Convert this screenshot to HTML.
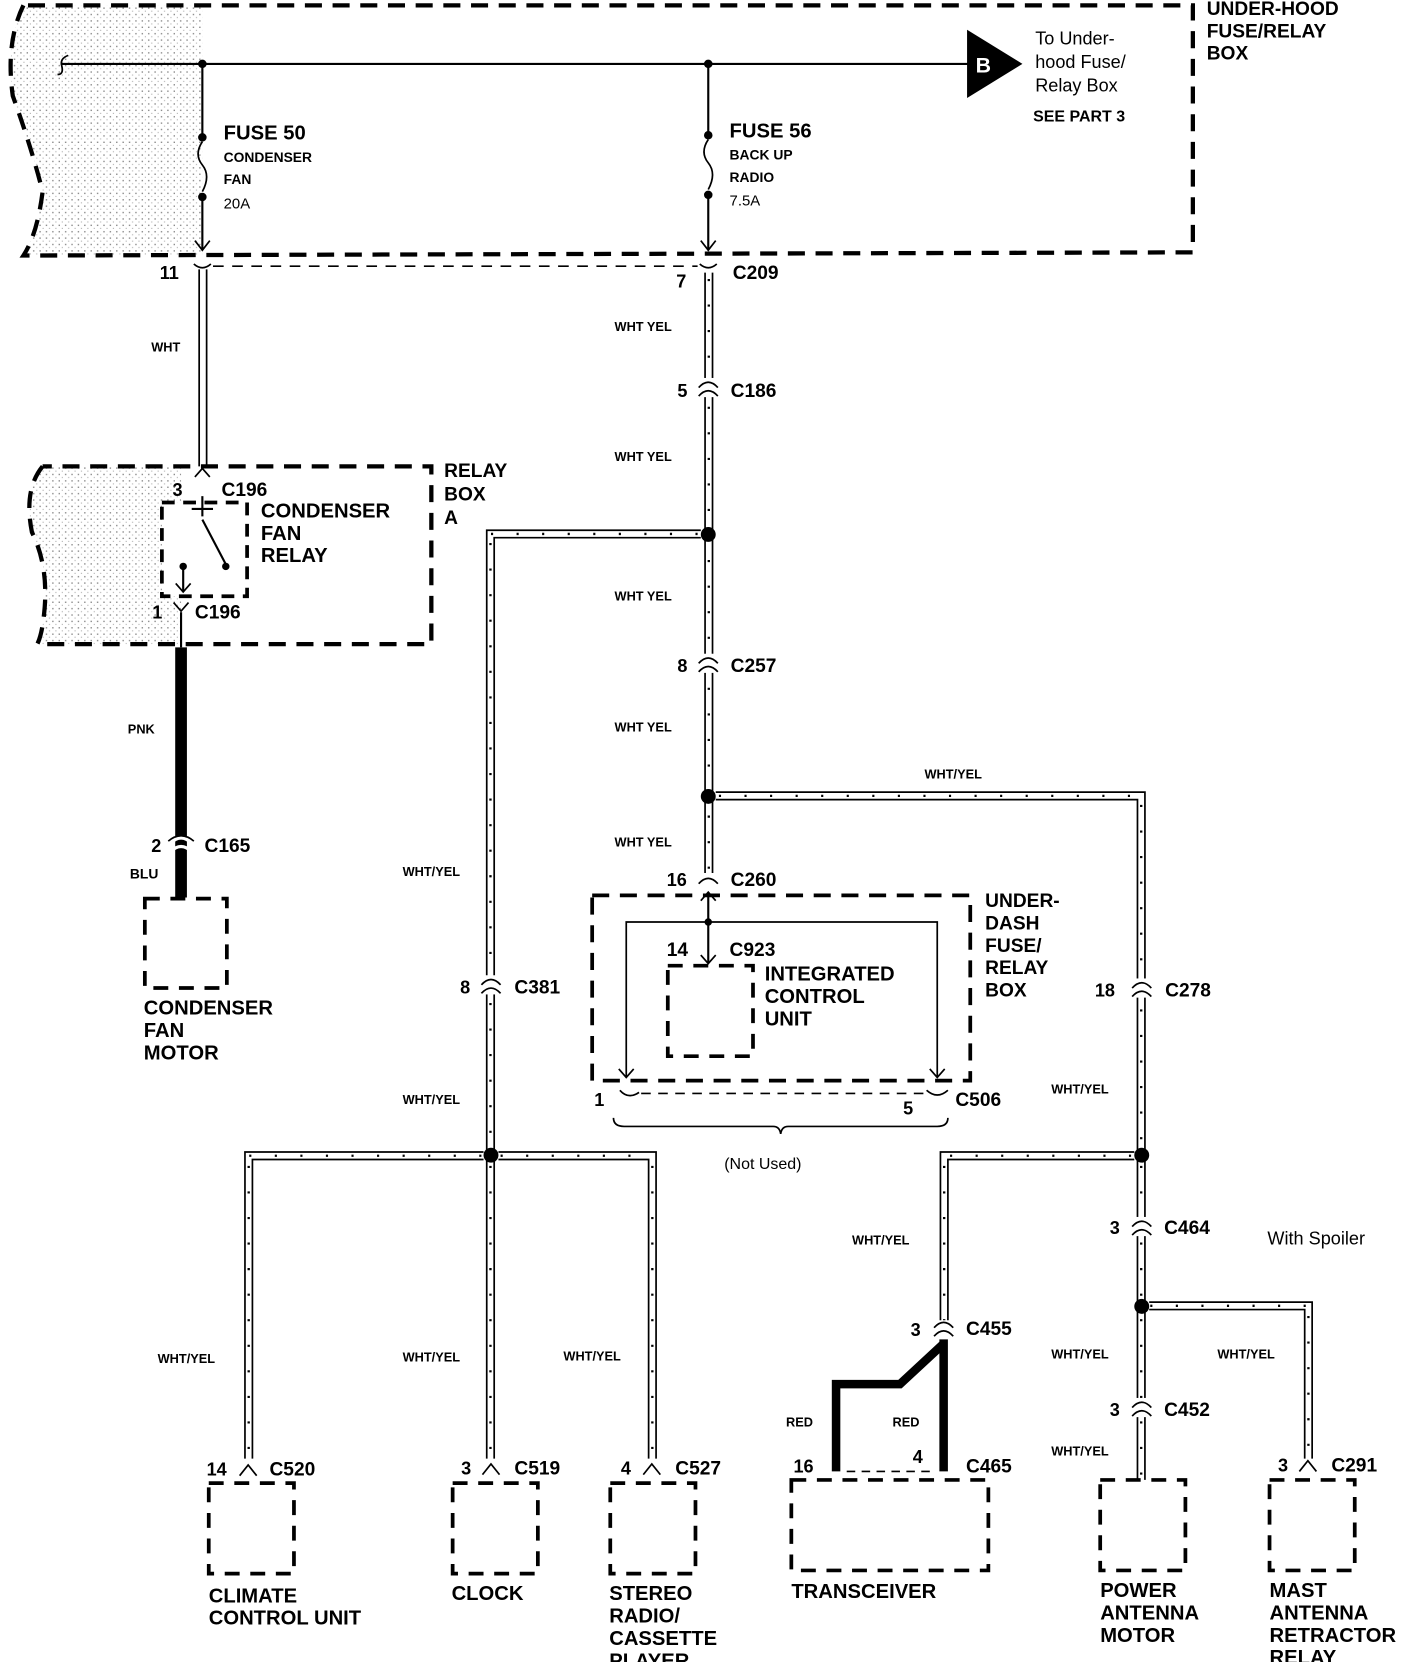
<!DOCTYPE html>
<html><head><meta charset="utf-8"><style>
html,body{margin:0;padding:0;background:#fff;}
svg{display:block;}
text{font-family:"Liberation Sans",Arial,sans-serif;font-weight:bold;fill:#000;}
.d{fill:none;stroke:#000;stroke-width:4;stroke-dasharray:16 10;}
.w{fill:none;stroke:#000;stroke-width:1.6;}
.h{fill:none;stroke:#000;stroke-width:2.2;stroke-dasharray:2 22;}
</style></head><body>
<svg width="1408" height="1662" viewBox="0 0 1322 1561" preserveAspectRatio="none" xmlns="http://www.w3.org/2000/svg">
<defs>
<pattern id="dots" width="6" height="6" patternUnits="userSpaceOnUse"><rect width="6" height="6" fill="#fff"/><rect x="1" y="1" width="1.3" height="1.3" fill="#888"/><rect x="4" y="4" width="1" height="1" fill="#aaa"/></pattern>
</defs>
<!-- top box shading -->
<path d="M22,5 Q5,40 12,90 Q30,140 40,180 Q35,220 22,240 L190,240 L190,5 Z" fill="url(#dots)"/>
<path class="d" d="M22,5 Q5,40 12,90 Q30,140 40,180 Q35,220 22,240 L1120,237 L1120,5 L22,5"/>
<text x="1133" y="14" font-size="18">UNDER-HOOD</text>
<text x="1133" y="35" font-size="18">FUSE/RELAY</text>
<text x="1133" y="56" font-size="18">BOX</text>
<!-- bus -->
<path d="M64,52 Q56,55 58,62 Q60,70 54,70" class="w" stroke-width="2"/>
<line x1="58" y1="60" x2="910" y2="60" stroke="#000" stroke-width="2"/>
<polygon points="908,28 908,92 960,60" fill="#000"/>
<text x="916" y="68" font-size="20" fill="#fff" style="fill:#fff">B</text>
<text x="972" y="42" font-size="17" font-weight="normal" style="font-weight:normal">To Under-</text>
<text x="972" y="64" font-size="17" style="font-weight:normal">hood Fuse/</text>
<text x="972" y="86" font-size="17" style="font-weight:normal">Relay Box</text>
<text x="970" y="114" font-size="15">SEE PART 3</text>
<!-- fuse 50 -->
<circle cx="190" cy="60" r="4"/>
<line x1="190" y1="60" x2="190" y2="128" stroke="#000" stroke-width="2"/>
<circle cx="190" cy="129" r="4"/><circle cx="190" cy="185" r="4"/>
<path d="M190,133 Q182,145 190,155 Q198,165 190,180" class="w" stroke-width="2"/>
<line x1="190" y1="185" x2="190" y2="235" stroke="#000" stroke-width="2"/>
<path d="M183,226 L190,235 L197,226" class="w" stroke-width="2"/>
<text x="210" y="131" font-size="19">FUSE 50</text>
<text x="210" y="152" font-size="13">CONDENSER</text>
<text x="210" y="173" font-size="13">FAN</text>
<text x="210" y="196" font-size="14" style="font-weight:normal">20A</text>
<!-- fuse 56 -->
<circle cx="665" cy="60" r="4"/>
<line x1="665" y1="60" x2="665" y2="126" stroke="#000" stroke-width="2"/>
<circle cx="665" cy="127" r="4"/><circle cx="665" cy="183" r="4"/>
<path d="M665,131 Q657,143 665,153 Q673,163 665,178" class="w" stroke-width="2"/>
<line x1="665" y1="183" x2="665" y2="235" stroke="#000" stroke-width="2"/>
<path d="M658,226 L665,235 L672,226" class="w" stroke-width="2"/>
<text x="685" y="129" font-size="19">FUSE 56</text>
<text x="685" y="150" font-size="13">BACK UP</text>
<text x="685" y="171" font-size="13">RADIO</text>
<text x="685" y="193" font-size="14" style="font-weight:normal">7.5A</text>
<!-- connector dashed line -->
<line x1="200" y1="250" x2="655" y2="250" stroke="#000" stroke-width="1.5" stroke-dasharray="10 8"/>
<path d="M182,248 Q190,255 198,248" class="w" stroke-width="3"/>
<path d="M657,248 Q665,255 673,248" class="w" stroke-width="3"/>
<text x="150" y="262" font-size="17">11</text>
<text x="635" y="270" font-size="17">7</text>
<text x="688" y="262" font-size="18">C209</text>
<!-- left WHT wire -->
<line x1="187" y1="253" x2="187" y2="438" class="w"/><line x1="194" y1="253" x2="194" y2="438" class="w"/>
<text x="142" y="330" font-size="12">WHT</text>
<!-- relay box A -->
<path d="M40,438 Q22,460 30,500 Q45,530 42,570 Q40,595 35,605 L170,605 L170,438 Z" fill="url(#dots)"/>
<path class="d" d="M40,438 Q22,460 30,500 Q45,530 42,570 Q40,595 35,605 L405,605 L405,438 L40,438"/>
<path d="M183,448 L190,440 L197,448" class="w" stroke-width="2.5"/>
<text x="162" y="466" font-size="17">3</text><text x="208" y="466" font-size="18">C196</text>
<text x="417" y="448" font-size="18">RELAY</text><text x="417" y="470" font-size="18">BOX</text><text x="417" y="492" font-size="18">A</text>
<rect x="152" y="472" width="80" height="88" fill="#fff" stroke="#000" stroke-width="3.5" stroke-dasharray="12 8"/>
<line x1="190" y1="466" x2="190" y2="485" stroke="#000" stroke-width="2"/>
<line x1="180" y1="478" x2="200" y2="478" stroke="#000" stroke-width="2"/>
<line x1="190" y1="488" x2="212" y2="530" stroke="#000" stroke-width="2"/>
<circle cx="212" cy="532" r="3.5"/><circle cx="172" cy="532" r="3.5"/>
<line x1="172" y1="532" x2="172" y2="555" stroke="#000" stroke-width="2"/>
<path d="M165,548 L172,556 L179,548" class="w" stroke-width="2"/>
<text x="245" y="486" font-size="19">CONDENSER</text><text x="245" y="507" font-size="19">FAN</text><text x="245" y="528" font-size="19">RELAY</text>
<path d="M163,566 L170,574 L177,566" class="w" stroke-width="2.5"/>
<text x="143" y="581" font-size="17">1</text><text x="183" y="581" font-size="18">C196</text>
<line x1="170" y1="575" x2="170" y2="608" stroke="#000" stroke-width="2"/>
<!-- PNK -->
<line x1="170" y1="608" x2="170" y2="843" stroke="#000" stroke-width="11"/>
<text x="120" y="689" font-size="12">PNK</text>
<path d="M160,792 Q170,782 180,792 M160,800 Q170,790 180,800" fill="none" stroke="#fff" stroke-width="3"/>
<path d="M158,790 Q170,780 182,790" class="w" stroke-width="3"/>
<text x="142" y="800" font-size="17">2</text><text x="192" y="800" font-size="18">C165</text>
<text x="122" y="825" font-size="13">BLU</text>
<rect x="136" y="844" width="77" height="84" fill="none" stroke="#000" stroke-width="3.5" stroke-dasharray="14 10"/>
<text x="135" y="953" font-size="19">CONDENSER</text><text x="135" y="974" font-size="19">FAN</text><text x="135" y="995" font-size="19">MOTOR</text>

<!-- middle trunk x=665 -->
<g>
<line x1="662" y1="256" x2="662" y2="820" class="w"/><line x1="669" y1="256" x2="669" y2="820" class="w"/>
<line x1="665.5" y1="262" x2="665.5" y2="820" class="h"/>
</g>
<g fill="#fff" stroke="none"><rect x="655" y="355" width="20" height="18"/><rect x="655" y="614" width="20" height="18"/></g>
<path d="M656,364 Q665,354 674,364 M656,372 Q665,362 674,372" class="w" stroke-width="3"/>
<path d="M656,623 Q665,613 674,623 M656,631 Q665,621 674,631" class="w" stroke-width="3"/>
<text x="636" y="373" font-size="17">5</text><text x="686" y="373" font-size="18">C186</text>
<text x="636" y="631" font-size="17">8</text><text x="686" y="631" font-size="18">C257</text>
<text x="577" y="311" font-size="12">WHT YEL</text>
<text x="577" y="433" font-size="12">WHT YEL</text>
<text x="577" y="564" font-size="12">WHT YEL</text>
<text x="577" y="687" font-size="12">WHT YEL</text>
<text x="577" y="795" font-size="12">WHT YEL</text>
<circle cx="665" cy="502" r="7"/><circle cx="665" cy="748" r="7"/>
<path d="M656,830 Q665,820 674,830" class="w" stroke-width="3"/>
<text x="626" y="832" font-size="17">16</text><text x="686" y="832" font-size="18">C260</text>

<!-- branch left from 502 to x=461 -->
<path d="M658,498 L457,498 L457,1085 M658,505 L464,505 L464,1085" class="w"/>
<path d="M655,501.5 L461,501.5" class="h"/><line x1="460.5" y1="510" x2="460.5" y2="1085" class="h"/>
<rect x="451" y="916" width="20" height="18" fill="#fff"/>
<path d="M452,925 Q461,915 470,925 M452,933 Q461,923 470,933" class="w" stroke-width="3"/>
<text x="432" y="933" font-size="17">8</text><text x="483" y="933" font-size="18">C381</text>
<text x="378" y="823" font-size="12">WHT/YEL</text>
<text x="378" y="1037" font-size="12">WHT/YEL</text>

<!-- branch right from 748 to x=1072 -->
<path d="M672,744 L1075,744 L1075,1085 M672,751 L1068,751 L1068,1085" class="w"/>
<path d="M675,747.5 L1071,747.5" class="h"/><line x1="1071.5" y1="756" x2="1071.5" y2="1085" class="h"/>
<text x="868" y="731" font-size="12">WHT/YEL</text>
<rect x="1062" y="919" width="20" height="18" fill="#fff"/>
<path d="M1063,928 Q1072,918 1081,928 M1063,936 Q1072,926 1081,936" class="w" stroke-width="3"/>
<text x="1028" y="936" font-size="17">18</text><text x="1094" y="936" font-size="18">C278</text>
<text x="987" y="1027" font-size="12">WHT/YEL</text>

<!-- under-dash box -->
<rect x="556" y="841" width="355" height="174" fill="none" stroke="#000" stroke-width="3.5" stroke-dasharray="16 10"/>
<text x="925" y="852" font-size="18">UNDER-</text><text x="925" y="873" font-size="18">DASH</text><text x="925" y="894" font-size="18">FUSE/</text><text x="925" y="915" font-size="18">RELAY</text><text x="925" y="936" font-size="18">BOX</text>
<line x1="665" y1="838" x2="665" y2="905" stroke="#000" stroke-width="2"/>
<path d="M658,846 L665,838 L672,846 M658,897 L665,905 L672,897" class="w" stroke-width="2"/>
<path d="M588,1012 L588,866 L880,866 L880,1012" class="w" stroke-width="1.8"/>
<circle cx="665" cy="866" r="3.5"/>
<path d="M581,1004 L588,1012 L595,1004 M873,1004 L880,1012 L887,1004" class="w" stroke-width="2"/>
<rect x="627" y="907" width="80" height="85" fill="#fff" stroke="#000" stroke-width="3.5" stroke-dasharray="14 10"/>
<text x="626" y="898" font-size="18">14</text><text x="685" y="898" font-size="18">C923</text>
<text x="718" y="921" font-size="19">INTEGRATED</text><text x="718" y="942" font-size="19">CONTROL</text><text x="718" y="963" font-size="19">UNIT</text>
<path d="M582,1024 Q590,1033 600,1026" class="w" stroke-width="3"/>
<path d="M870,1024 Q880,1033 890,1024" class="w" stroke-width="3"/>
<line x1="602" y1="1027" x2="868" y2="1027" stroke="#000" stroke-width="1.5" stroke-dasharray="9 7"/>
<text x="558" y="1039" font-size="17">1</text><text x="848" y="1047" font-size="17">5</text><text x="897" y="1039" font-size="18">C506</text>
<path d="M576,1050 Q576,1058 586,1058 L726,1058 Q732,1058 733,1065 Q734,1058 740,1058 L880,1058 Q890,1058 890,1050" class="w" stroke-width="2.5"/>
<text x="680" y="1098" font-size="15" style="font-weight:normal">(Not Used)</text>

<!-- lower-left distribution from 461,1085 -->
<circle cx="461" cy="1085" r="7"/>
<path d="M454,1082 L230,1082 L230,1370 M454,1089 L237,1089 L237,1370" class="w"/>
<path d="M452,1085.5 L233,1085.5" class="h"/><line x1="233.5" y1="1095" x2="233.5" y2="1370" class="h"/>
<path d="M457,1090 L457,1370 M464,1090 L464,1370" class="w"/><line x1="460.5" y1="1095" x2="460.5" y2="1370" class="h"/>
<path d="M468,1082 L616,1082 L616,1370 M468,1089 L609,1089 L609,1370" class="w"/>
<path d="M470,1085.5 L612,1085.5" class="h"/><line x1="612.5" y1="1095" x2="612.5" y2="1370" class="h"/>
<text x="148" y="1280" font-size="12">WHT/YEL</text>
<text x="378" y="1279" font-size="12">WHT/YEL</text>
<text x="529" y="1278" font-size="12">WHT/YEL</text>
<path d="M225,1386 L233,1376 L241,1386" class="w" stroke-width="3"/>
<path d="M453,1385 L461,1375 L469,1385" class="w" stroke-width="3"/>
<path d="M604,1385 L612,1375 L620,1385" class="w" stroke-width="3"/>
<text x="194" y="1386" font-size="17">14</text><text x="253" y="1386" font-size="18">C520</text>
<text x="433" y="1385" font-size="17">3</text><text x="483" y="1385" font-size="18">C519</text>
<text x="583" y="1385" font-size="17">4</text><text x="634" y="1385" font-size="18">C527</text>
<rect x="196" y="1393" width="80" height="85" fill="none" stroke="#000" stroke-width="3.5" stroke-dasharray="14 10"/>
<rect x="425" y="1393" width="80" height="85" fill="none" stroke="#000" stroke-width="3.5" stroke-dasharray="14 10"/>
<rect x="573" y="1393" width="80" height="85" fill="none" stroke="#000" stroke-width="3.5" stroke-dasharray="14 10"/>
<text x="196" y="1505" font-size="19">CLIMATE</text><text x="196" y="1526" font-size="19">CONTROL UNIT</text>
<text x="424" y="1503" font-size="19">CLOCK</text>
<text x="572" y="1503" font-size="19">STEREO</text><text x="572" y="1524" font-size="19">RADIO/</text><text x="572" y="1545" font-size="19">CASSETTE</text><text x="572" y="1566" font-size="19">PLAYER</text>

<!-- right distribution from 1072,1085 -->
<circle cx="1072" cy="1085" r="7"/>
<path d="M1065,1082 L883,1082 L883,1240 M1065,1089 L890,1089 L890,1240" class="w"/>
<path d="M1062,1085.5 L886,1085.5" class="h"/><line x1="886.5" y1="1095" x2="886.5" y2="1240" class="h"/>
<text x="800" y="1169" font-size="12">WHT/YEL</text>
<path d="M877,1247 Q886,1237 895,1247 M877,1255 Q886,1245 895,1255" class="w" stroke-width="3"/>
<text x="855" y="1255" font-size="17">3</text><text x="907" y="1254" font-size="18">C455</text>
<line x1="886" y1="1258" x2="886" y2="1382" stroke="#000" stroke-width="8"/>
<path d="M886,1262 L845,1300 L785,1300 L785,1382" fill="none" stroke="#000" stroke-width="8"/>
<text x="738" y="1340" font-size="12">RED</text><text x="838" y="1340" font-size="12">RED</text>
<line x1="795" y1="1382" x2="878" y2="1382" stroke="#000" stroke-width="1.5" stroke-dasharray="8 6"/>
<text x="745" y="1383" font-size="17">16</text><text x="857" y="1374" font-size="17">4</text><text x="907" y="1383" font-size="18">C465</text>
<rect x="743" y="1390" width="185" height="85" fill="none" stroke="#000" stroke-width="3.5" stroke-dasharray="14 10"/>
<text x="743" y="1501" font-size="19">TRANSCEIVER</text>

<path d="M1068,1090 L1068,1390 M1075,1090 L1075,1390" class="w"/>
<line x1="1071.5" y1="1095" x2="1071.5" y2="1390" class="h"/>
<rect x="1062" y="1143" width="20" height="18" fill="#fff"/>
<path d="M1063,1152 Q1072,1142 1081,1152 M1063,1160 Q1072,1150 1081,1160" class="w" stroke-width="3"/>
<text x="1042" y="1159" font-size="17">3</text><text x="1093" y="1159" font-size="18">C464</text>
<text x="1190" y="1169" font-size="17" style="font-weight:normal">With Spoiler</text>
<circle cx="1072" cy="1227" r="7"/>
<path d="M1079,1223 L1232,1223 L1232,1370 M1079,1230 L1225,1230 L1225,1370" class="w"/>
<path d="M1080,1226.5 L1228,1226.5" class="h"/><line x1="1228.5" y1="1236" x2="1228.5" y2="1370" class="h"/>
<text x="987" y="1276" font-size="12">WHT/YEL</text><text x="1143" y="1276" font-size="12">WHT/YEL</text>
<rect x="1062" y="1313" width="20" height="18" fill="#fff"/>
<path d="M1063,1322 Q1072,1312 1081,1322 M1063,1330 Q1072,1320 1081,1330" class="w" stroke-width="3"/>
<text x="1042" y="1330" font-size="17">3</text><text x="1093" y="1330" font-size="18">C452</text>
<text x="987" y="1367" font-size="12">WHT/YEL</text>
<path d="M1220,1382 L1228,1372 L1236,1382" class="w" stroke-width="3"/>
<text x="1200" y="1382" font-size="17">3</text><text x="1250" y="1382" font-size="18">C291</text>
<rect x="1033" y="1390" width="80" height="85" fill="none" stroke="#000" stroke-width="3.5" stroke-dasharray="14 10"/>
<rect x="1192" y="1390" width="80" height="85" fill="none" stroke="#000" stroke-width="3.5" stroke-dasharray="14 10"/>
<text x="1033" y="1500" font-size="19">POWER</text><text x="1033" y="1521" font-size="19">ANTENNA</text><text x="1033" y="1542" font-size="19">MOTOR</text>
<text x="1192" y="1500" font-size="19">MAST</text><text x="1192" y="1521" font-size="19">ANTENNA</text><text x="1192" y="1542" font-size="19">RETRACTOR</text><text x="1192" y="1563" font-size="19">RELAY</text>
</svg>
</body></html>
